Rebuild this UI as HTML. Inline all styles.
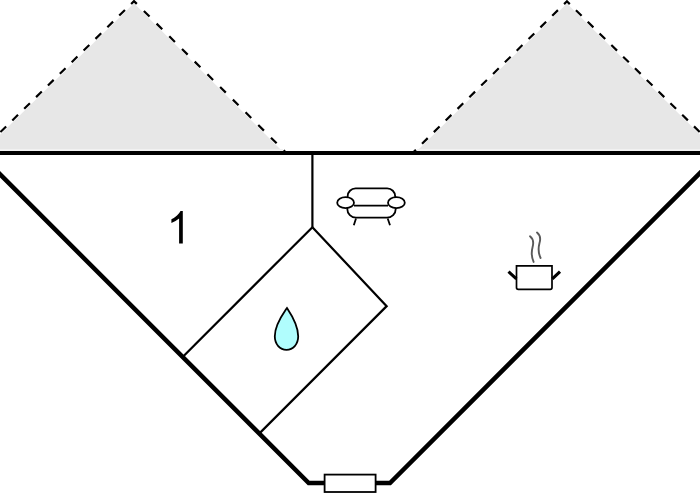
<!DOCTYPE html>
<html>
<head>
<meta charset="utf-8">
<style>
html,body{margin:0;padding:0;background:#fff;}
body{width:700px;height:500px;overflow:hidden;font-family:"Liberation Sans",sans-serif;}
svg{display:block;}
</style>
</head>
<body>
<svg width="700" height="500" viewBox="0 0 700 500">
  <rect x="0" y="0" width="700" height="500" fill="#fff"/>
  <!-- terraces -->
  <polygon points="133.99,3.35 0.00,134.73 0.00,149.00 280.08,149.00" fill="#e7e7e7"/>
  <polygon points="566.93,3.58 418.95,149.00 700.00,149.00 700.00,134.57" fill="#e7e7e7"/>
  <rect x="0" y="149" width="283" height="2" fill="#f1f1f1"/>
  <rect x="417" y="149" width="283" height="2" fill="#f1f1f1"/>
  <g stroke="#000" stroke-width="2.2" fill="none" stroke-linejoin="miter" stroke-miterlimit="10">
    <path d="M-4.00,136.41 L134.00,1.10 L285.86,152.50" stroke-dasharray="8.00 8.64 8.00 8.64 8.00 8.64 8.00 8.64 8.00 8.64 8.00 8.64 8.00 8.64 8.00 8.64 8.00 8.64 8.00 8.64 8.00 8.64 8.00 8.64 8.00 9.95 8.00 9.95 8.00 9.95 8.00 9.95 8.00 9.95 8.00 9.95 8.00 9.95 8.00 9.95 8.00 9.95 8.00 9.95 8.00 9.95 8.00 9.95 8.00 1000.00" stroke-dashoffset="10.44"/>
    <path d="M413.11,152.50 L566.93,1.34 L704.00,136.26" stroke-dasharray="8.00 8.60 8.00 8.60 8.00 8.60 8.00 8.60 8.00 8.60 8.00 8.60 8.00 8.60 8.00 8.60 8.00 8.60 8.00 8.60 8.00 8.60 8.00 8.60 8.00 8.60 8.00 8.57 8.00 8.57 8.00 8.57 8.00 8.57 8.00 8.57 8.00 8.57 8.00 8.57 8.00 8.57 8.00 8.57 8.00 8.57 8.00 8.57 8.00 8.57 8.00 1000.00" stroke-dashoffset="4.12"/>
  </g>
  <!-- thick walls -->
  <g stroke="#000" fill="none" stroke-width="4.5" stroke-linejoin="miter">
    <path d="M0,153 L700,153" stroke-width="4"/>
    <path d="M-10,164.3 L308.7,483 L390,483 L710,163"/>
  </g>
  <!-- thin walls -->
  <g stroke="#000" fill="none" stroke-width="2.2" stroke-linejoin="miter">
    <path d="M312.4,154 L312.4,227.5"/>
    <path d="M312.4,227.2 L183.4,356.2"/>
    <path d="M312.4,227.3 L386.67,306.13 L260.2,432.6"/>
  </g>
  <!-- window -->
  <rect x="324.6" y="474.6" width="51.0" height="17.4" fill="#fff" stroke="#000" stroke-width="1.8"/>
  <!-- room number -->
  <path d="M182.8,211 L182.8,243.5 L179.1,243.5 L179.1,218.6 Q176,221.3 171.4,222.9 L171.4,219.3 Q174.5,217.8 177,215.5 Q179.5,213.2 180.5,211 Z" fill="#000"/>
  <!-- sofa -->
  <g stroke="#000" stroke-width="1.8" fill="none">
    <path d="M347.6,204 L347.6,196.4 A8,8 0 0 1 355.6,188.4 L387.2,188.4 A8,8 0 0 1 395.2,196.4 L395.2,204"/>
    <path d="M347.3,207 L347.3,209 A8.7,8.7 0 0 0 356,217.7 L387,217.7 A8.7,8.7 0 0 0 395.7,209 L395.7,207"/>
    <path d="M354,205.6 L388,205.6"/>
    <ellipse cx="345.6" cy="202.7" rx="8.4" ry="5.5" fill="#fff"/>
    <ellipse cx="396.4" cy="202.7" rx="8.4" ry="5.5" fill="#fff"/>
    <path d="M356,218.5 L353.8,225.3 M387.7,218.5 L390,225.3"/>
  </g>
  <!-- pot -->
  <g fill="none">
    <path d="M530,236.3 C533.5,239 533.5,244 532.5,247.5 C531.3,252 531.5,257 533.6,261.9" stroke="#5a5a5a" stroke-width="1.9" stroke-linecap="round"/>
    <path d="M537,232.5 C540.5,235.2 540.5,240 539.4,243.5 C538.2,248 538.5,253.5 540.6,258" stroke="#5a5a5a" stroke-width="1.9" stroke-linecap="round"/>
    <path d="M516.5,265.9 L552,265.9 L552,287.5 Q552,289.3 550.2,289.3 L518.3,289.3 Q516.5,289.3 516.5,287.5 Z" stroke="#000" stroke-width="1.7" fill="#fff"/>
    <path d="M508.5,271.6 L516.4,278.9 M552.3,278.9 L560,271.6" stroke="#000" stroke-width="3.1"/>
  </g>
  <!-- water drop -->
  <path d="M287,308 C291,314 298.2,324.5 298.2,336.3 C298.2,344.3 293,349.9 286.5,349.9 C280,349.9 274.8,344.3 274.8,336.3 C274.8,324.5 283,314 287,308 Z" fill="#b0fdfd" stroke="#000" stroke-width="1.8"/>
</svg>
</body>
</html>
